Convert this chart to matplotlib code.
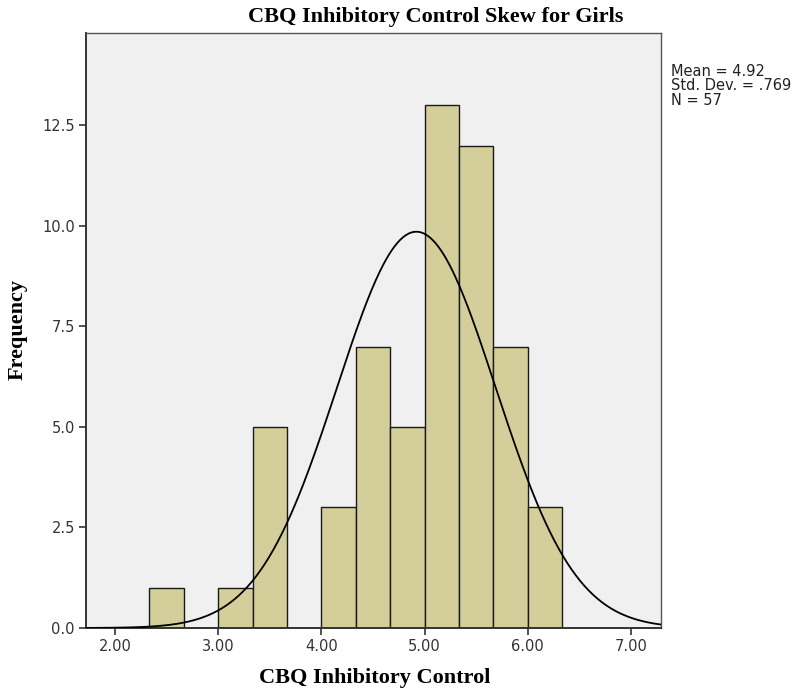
import numpy as np
import matplotlib.pyplot as plt

# histogram bins (width 1/3) and counts
bin_left = [2.0 + 1/3, 3.0, 3.0 + 1/3, 4.0, 4.0 + 1/3, 4.0 + 2/3, 5.0, 5.0 + 1/3, 5.0 + 2/3, 6.0]
counts = [1, 1, 5, 3, 7, 5, 13, 12, 7, 3]
bin_width = 1/3

mean = 4.92
std_dev = 0.769
n = 57

x_ticks = [2, 3, 4, 5, 6, 7]
y_ticks = [0, 2.5, 5.0, 7.5, 10.0, 12.5]

fig = plt.figure(figsize=(7.94, 6.96), dpi=100)
ax = fig.add_axes([86/794, 1 - 628/696, (661-86)/794, (628-33)/696])
ax.set_facecolor('#f0f0f0')

ax.bar(bin_left, counts, width=bin_width, align='edge', color='#d4cf9a',
       edgecolor='#1a1a1a', linewidth=1.0, zorder=2)

# normal curve scaled to counts
xs = np.linspace(1.72, 7.29, 400)
ys = n * bin_width / (std_dev * np.sqrt(2 * np.pi)) * np.exp(-0.5 * ((xs - mean) / std_dev) ** 2)
ax.plot(xs, ys, color='black', linewidth=1.3, zorder=3)

ax.set_xlim(1.72, 7.29)
ax.set_ylim(0, 14.8)
ax.set_xticks(x_ticks)
ax.set_xticklabels(['%.2f' % t for t in x_ticks])
ax.set_yticks(y_ticks)
ax.set_yticklabels(['%.1f' % t for t in y_ticks])
ax.tick_params(direction='out', length=5, width=1.2, color='#333333',
               labelsize=10.5, labelcolor='#333333', pad=3)
for s in ax.spines.values():
    s.set_color('#555555')
    s.set_linewidth(1.0)
ax.spines['left'].set_color('#333333')
ax.spines['bottom'].set_color('#333333')
ax.spines['left'].set_linewidth(1.4)
ax.spines['bottom'].set_linewidth(1.4)

serif = {'family': 'Liberation Serif', 'weight': 'bold'}
fig.text(436/794, 1 - 17/696, 'CBQ Inhibitory Control Skew for Girls',
         ha='center', va='center', fontsize=16, **serif)
fig.text(375/794, 1 - 678/696, 'CBQ Inhibitory Control',
         ha='center', va='center', fontsize=16, **serif)
fig.text(18/794, 1 - 330/696, 'Frequency', rotation=90,
         ha='center', va='center', fontsize=16, **serif)

fig.text(671/794, 1 - 64/696, 'Mean = 4.92\nStd. Dev. = .769\nN = 57',
         ha='left', va='top', fontsize=10.5, color='#222222', linespacing=0.95)

plt.savefig('out.png', dpi=100)
